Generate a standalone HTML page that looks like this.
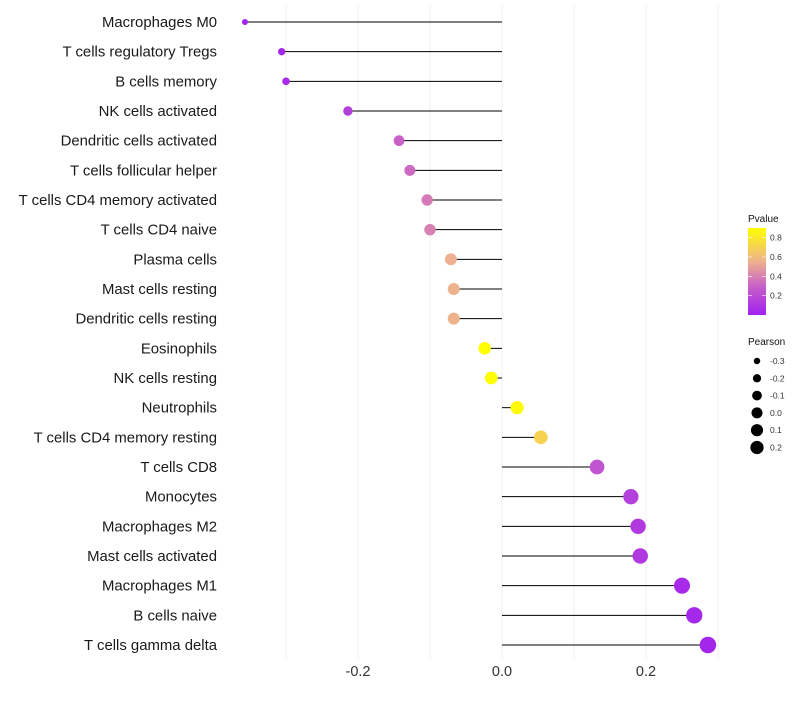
<!DOCTYPE html>
<html><head><meta charset="utf-8"><style>
body{margin:0;background:#fff;font-family:"Liberation Sans",sans-serif}
</style></head><body>
<svg id="c" width="800" height="700" xmlns="http://www.w3.org/2000/svg">
<defs><linearGradient id="pg" x1="0" y1="1" x2="0" y2="0">
<stop offset="0" stop-color="#a020f0"/><stop offset="0.33" stop-color="#c860c8"/><stop offset="0.61" stop-color="#eeb090"/><stop offset="1" stop-color="#ffff00"/>
</linearGradient></defs>
</svg>
<script>
const categories=["Macrophages M0","T cells regulatory  Tregs ","B cells memory","NK cells activated","Dendritic cells activated","T cells follicular helper","T cells CD4 memory activated","T cells CD4 naive","Plasma cells","Mast cells resting","Dendritic cells resting","Eosinophils","NK cells resting","Neutrophils","T cells CD4 memory resting","T cells CD8","Monocytes","Macrophages M2","Mast cells activated","Macrophages M1","B cells naive","T cells gamma delta"];
const pearson=[-0.357,-0.306,-0.300,-0.214,-0.143,-0.128,-0.104,-0.100,-0.071,-0.067,-0.067,-0.024,-0.015,0.021,0.054,0.132,0.179,0.189,0.192,0.250,0.267,0.286];
const pvalue=[0.02,0.04,0.05,0.15,0.30,0.33,0.38,0.40,0.55,0.56,0.56,0.90,0.93,0.88,0.70,0.25,0.15,0.12,0.12,0.05,0.04,0.03];
const xTicks=[-0.2,0,0.2];
const xTickLabels=["-0.2","0.0","0.2"];
const gridVals=[-0.3,-0.2,-0.1,0,0.1,0.2,0.3];
const pTicks=[0.2,0.4,0.6,0.8];
const sizeLegend=[-0.3,-0.2,-0.1,0.0,0.1,0.2];
const NS="http://www.w3.org/2000/svg",svg=document.getElementById('c');
function mk(t,a,p){const e=document.createElementNS(NS,t);for(const k in a)e.setAttribute(k,a[k]);(p||svg).appendChild(e);return e;}
const x=v=>502+v*720;
const y=i=>22+i*(623/21);
const r=v=>Math.sqrt(Math.max(1,42+92.3*v));
const stops=[[0,[160,32,240]],[0.3,[200,96,200]],[0.55,[238,176,144]],[0.9,[255,255,0]]];
function col(p){let a=stops[0],b=stops[stops.length-1];for(let i=0;i<stops.length-1;i++){if(p>=stops[i][0]&&p<=stops[i+1][0]){a=stops[i];b=stops[i+1];}}if(p>b[0])a=b;const t=b[0]===a[0]?0:(p-a[0])/(b[0]-a[0]);return 'rgb('+a[1].map((c,k)=>Math.round(c+(b[1][k]-c)*t)).join(',')+')';}
gridVals.forEach(g=>{const l=mk('line',{x1:x(g),x2:x(g),y1:5,y2:660,stroke:'#f0f0f0','stroke-width':1});

});
xTicks.forEach((t,i)=>{const e=mk('text',{x:x(t),y:676,'text-anchor':'middle','font-size':14.5,fill:'#333'});e.textContent=xTickLabels[i];

});
categories.forEach((c,i)=>{
const t=mk('text',{x:217,y:y(i)+5,'text-anchor':'end','font-size':14.9,fill:'#1a1a1a'});t.textContent=c;


const l=mk('line',{x1:x(0),x2:x(pearson[i]),y1:y(i),y2:y(i),stroke:'#000','stroke-width':1});


const d=mk('circle',{cx:x(pearson[i]),cy:y(i),r:r(pearson[i]),fill:col(pvalue[i])});


});
const lt=mk('text',{x:748,y:222,'font-size':10,fill:'#111'});lt.textContent='Pvalue';


const cb=mk('rect',{x:748,y:228,width:18,height:87,fill:'url(#pg)'});


const py=p=>315-p*96.7;
pTicks.forEach(p=>{mk('line',{x1:748,x2:752,y1:py(p),y2:py(p),stroke:'#fff','stroke-width':0.6});mk('line',{x1:762,x2:766,y1:py(p),y2:py(p),stroke:'#fff','stroke-width':0.6});
const e=mk('text',{x:770,y:py(p)+3,'font-size':8.5,fill:'#333'});e.textContent=p.toFixed(1);

});
const st=mk('text',{x:748,y:345,'font-size':10,fill:'#111'});st.textContent='Pearson';


sizeLegend.forEach((v,i)=>{const cy=361+i*17.3;
const c=mk('circle',{cx:757,cy:cy,r:r(v)*0.85,fill:'#000'});


const e=mk('text',{x:770,y:cy+3,'font-size':8.5,fill:'#333'});e.textContent=v.toFixed(1);

});
</script>
</body></html>
